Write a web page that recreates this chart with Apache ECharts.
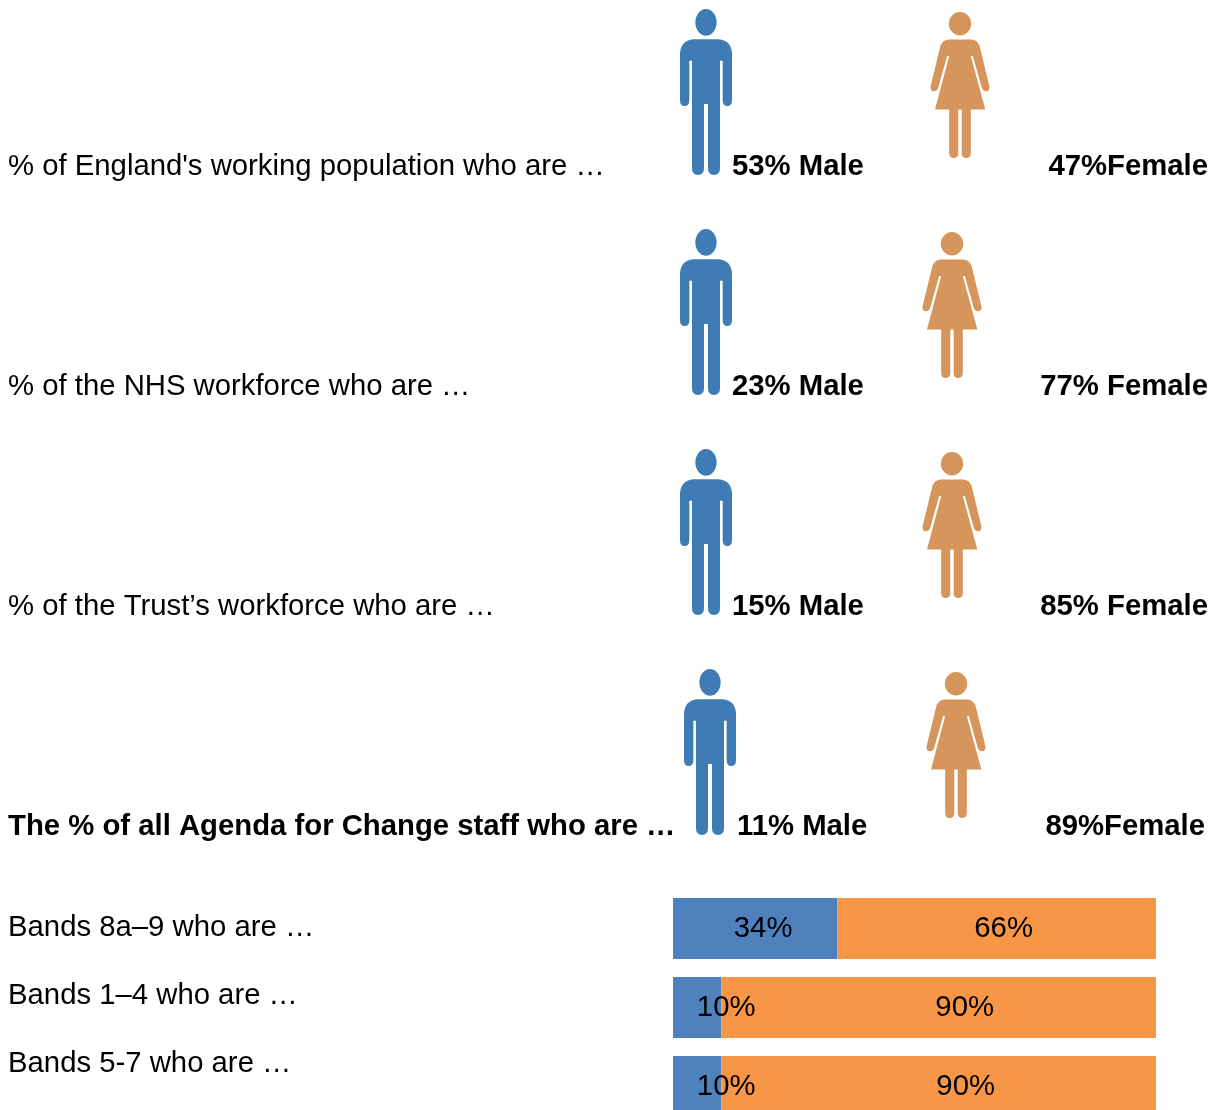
<!DOCTYPE html>
<html>
<head>
<meta charset="utf-8">
<style>html,body{margin:0;padding:0;background:#fff}#chart{width:1218px;height:1110px}</style>
<script src="https://cdn.jsdelivr.net/npm/echarts@6/dist/echarts.min.js"></script>
</head>
<body>
<div id="chart"></div>
<script>
// Workforce groups shown with a male and a female figure
const groupNames = [
  "% of England's working population who are …",
  "% of the NHS workforce who are …",
  "% of the Trust’s workforce who are …",
  "The % of all Agenda for Change staff who are …"
];
const genders = ['Male', 'Female'];
const maleCaptions = ['53% Male', '23% Male', '15% Male', '11% Male'];
const femaleCaptions = ['47%Female', '77% Female', '85% Female', '89%Female'];

// Pay band split
const bandNames = ['Bands 8a–9 who are …', 'Bands 1–4 who are …', 'Bands 5-7 who are …'];
const bandMale = [34, 10, 10];
const bandFemale = [66, 90, 90];

const FONT = '"Liberation Sans", Arial, sans-serif';
const FONT_SIZE = 29.3;
const BLUE_FIGURE = '#3f7cb6';
const ORANGE_FIGURE = '#d6955a';
const BLUE_BAR = '#4f81bd';
const ORANGE_BAR = '#f79646';

const malePath = 'path://M106,67 A32,40 0 1 1 170,67 A32,40 0 1 1 106,67 Z ' +
  'M100,118 L176,118 Q216,122 216,165 L216,300 Q216,318 202,318 Q188,318 188,300 L188,182 L180,182 ' +
  'L180,505 Q180,525 162,525 Q144,525 144,505 L144,312 L132,312 L132,505 Q132,525 114,525 ' +
  'Q96,525 96,505 L96,182 L88,182 L88,300 Q88,318 74,318 Q60,318 60,300 L60,165 Q60,122 100,118 Z';
const femalePath = 'path://M867,68 A33,35 0 1 1 933,68 A33,35 0 1 1 867,68 Z ' +
  'M865,115 L935,115 Q952,117 958,135 L987,255 Q989,270 977,270 Q967,270 964,258 L938,165 L932,165 L975,325 ' +
  'L932,325 L932,455 Q932,470 918,470 Q905,470 905,455 L905,325 L895,325 L895,455 Q895,470 881,470 ' +
  'Q868,470 868,455 L868,325 L826,325 L868,165 L862,165 L836,258 Q833,270 823,270 Q811,270 813,255 L842,135 ' +
  'Q848,117 865,115 Z';

// Small horizontal nudges per row, in pixels
const maleNudge = [0, 0, 0, 4];
const femaleNudge = [8, 0, 0, 4];
const maleCaptionShift = [26, 26, 26, 31];
const femaleCaptionShift = [256, 256, 256, 253];
const bandMaleLabelShift = [8, 29, 29];
const bandFemaleLabelShift = [7, 26, 27];

const figureSeries = (gender, path, size, dy, nudge, color) => ({
  type: 'scatter', xAxisIndex: 0, yAxisIndex: 0, silent: true,
  symbol: path, symbolSize: size, symbolKeepAspect: false,
  itemStyle: { color: color, opacity: 1 },
  data: groupNames.map((g, i) => ({ value: [gender, i], symbolOffset: [nudge[i], dy] })),
  z: 2
});

const captionSeries = (gender, captions, shifts, align) => ({
  type: 'scatter', xAxisIndex: 0, yAxisIndex: 0, silent: true,
  symbolSize: 1,
  itemStyle: { color: 'rgba(0,0,0,0)', opacity: 1 },
  label: {
    show: true, position: 'inside', verticalAlign: 'middle', align: align,
    formatter: p => captions[p.dataIndex],
    color: '#000', fontFamily: FONT, fontSize: FONT_SIZE, fontWeight: 'bold'
  },
  data: captions.map((c, i) => ({ value: [gender, i], label: { offset: [shifts[i], 0] } })),
  z: 3
});

const bandSeries = (name, values, shifts, color) => ({
  type: 'bar', name: name, stack: 'band', xAxisIndex: 1, yAxisIndex: 1,
  barWidth: 61, silent: true,
  itemStyle: { color: color },
  label: {
    show: true, position: 'inside', formatter: '{c}%',
    color: '#000', fontFamily: FONT, fontSize: FONT_SIZE
  },
  data: values.map((v, i) => ({ value: v, label: { offset: [shifts[i], 0] } })),
  z: 2
});

const chart = echarts.init(document.getElementById('chart'), null, { renderer: 'canvas' });
chart.setOption({
  animation: false,
  backgroundColor: '#fff',
  grid: [
    { left: 583, width: 492, top: 56.5, height: 880, outerBoundsMode: 'none' },
    { left: 673, width: 483, top: 889, height: 237, outerBoundsMode: 'none' },
    { left: 8, width: 600, top: 894, height: 204, outerBoundsMode: 'none' }
  ],
  xAxis: [
    { type: 'category', gridIndex: 0, data: genders, show: false },
    { type: 'value', gridIndex: 1, min: 0, max: 100, show: false },
    { type: 'value', gridIndex: 2, min: 0, max: 100, show: false }
  ],
  yAxis: [
    {
      type: 'category', gridIndex: 0, inverse: true,
      data: groupNames.map((g, i) => i === groupNames.length - 1
        ? { value: g, textStyle: { fontWeight: 'bold', align: 'left', color: '#000', fontFamily: FONT, fontSize: FONT_SIZE } }
        : g),
      axisLine: { show: false }, axisTick: { show: false }, splitLine: { show: false },
      axisLabel: { margin: 575, align: 'left', color: '#000', fontFamily: FONT, fontSize: FONT_SIZE, hideOverlap: false }
    },
    {
      type: 'category', gridIndex: 1, inverse: true, data: bandNames, show: false
    },
    {
      type: 'category', gridIndex: 2, inverse: true, data: bandNames,
      axisLine: { show: false }, axisTick: { show: false }, splitLine: { show: false },
      axisLabel: { margin: 0, inside: true, align: 'left', color: '#000', fontFamily: FONT, fontSize: FONT_SIZE }
    }
  ],
  series: [
    figureSeries('Male', malePath, [52, 166], -74.5, maleNudge, BLUE_FIGURE),
    figureSeries('Female', femalePath, [59, 146], -81.5, femaleNudge, ORANGE_FIGURE),
    captionSeries('Male', maleCaptions, maleCaptionShift, 'left'),
    captionSeries('Female', femaleCaptions, femaleCaptionShift, 'right'),
    bandSeries('Male', bandMale, bandMaleLabelShift, BLUE_BAR),
    bandSeries('Female', bandFemale, bandFemaleLabelShift, ORANGE_BAR)
  ]
});
</script>
</body>
</html>
